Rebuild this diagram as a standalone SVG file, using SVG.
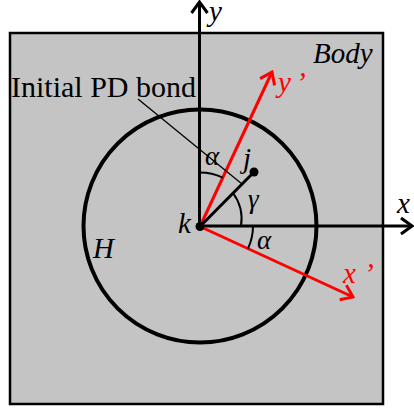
<svg xmlns="http://www.w3.org/2000/svg" width="414" height="410" viewBox="0 0 414 410">
<style>
text{font-family:"Liberation Serif","Times New Roman",Times,"DejaVu Serif",serif}
.lbl{font-style:italic;font-size:29px;fill:#000}
.gr{font-style:italic;font-size:27px;fill:#000}
.red{fill:#ff0000}
.txt{font-size:30px;fill:#000}
.ax{stroke:#000;stroke-width:3;fill:none}
.rax{stroke:#ff0000;stroke-width:3;fill:none}
.arc{stroke:#000;stroke-width:2;fill:none}
</style>
<defs>
<marker id="ah" viewBox="-14 -10 16 20" markerWidth="16" markerHeight="20" refX="0" refY="0" orient="auto" markerUnits="userSpaceOnUse">
<path d="M -11 -8 L 0 0 L -11 8" fill="none" stroke="#000" stroke-width="3"/>
</marker>
<marker id="ahr" viewBox="-14 -10 16 20" markerWidth="16" markerHeight="20" refX="0" refY="0" orient="auto" markerUnits="userSpaceOnUse">
<path d="M -11 -8 L 0 0 L -11 8" fill="none" stroke="#ff0000" stroke-width="3"/>
</marker>
</defs>
<g id="body">
<rect x="10" y="33" width="373" height="371" fill="#c4c4c4" stroke="#000" stroke-width="2.5"/>
<text class="lbl" x="313" y="63" font-family="Liberation Serif, serif">Body</text>
</g>
<g id="horizon">
<circle cx="200" cy="226" r="116.5" fill="none" stroke="#000" stroke-width="4"/>
<text class="lbl" x="93" y="258">H</text>
</g>
<g id="connectors">
<line class="ax" x1="199.5" y1="226" x2="199.5" y2="2" marker-end="url(#ah)"/>
<line class="ax" x1="200" y1="226" x2="412" y2="226" marker-end="url(#ah)"/>
<line class="rax" x1="200" y1="226.5" x2="272" y2="72" marker-end="url(#ahr)"/>
<line class="rax" x1="200" y1="226.5" x2="353" y2="297" marker-end="url(#ahr)"/>
<line x1="200" y1="226.5" x2="254" y2="172" stroke="#000" stroke-width="3"/>
<line x1="138" y1="99" x2="242" y2="184" stroke="#000" stroke-width="1.3"/>
<path class="arc" d="M 199.5 172.5 A 54 54 0 0 1 222.8 177.6"/>
<path class="arc" d="M 233 193 A 44 44 0 0 1 241 226"/>
<path class="arc" d="M 253 226 A 53 53 0 0 1 248 248.5"/>
</g>
<g id="node-k">
<circle cx="200" cy="226.5" r="4.5" fill="#000"/>
<text class="lbl" x="178" y="233">k</text>
</g>
<g id="node-j">
<circle cx="254" cy="172" r="4.5" fill="#000"/>
<text class="lbl" x="243" y="168">j</text>
</g>
<g id="labels">
<text class="lbl" x="209" y="21">y</text>
<text class="lbl" x="397" y="213">x</text>
<text class="lbl red" x="278" y="92"><tspan>y</tspan><tspan x="296">’</tspan></text>
<text class="lbl red" x="343" y="283"><tspan>x</tspan><tspan x="364">’</tspan></text>
<text class="txt" x="11" y="97">Initial PD bond</text>
<text class="gr" x="205" y="165">α</text>
<text class="gr" x="248" y="208">γ</text>
<text class="gr" x="257" y="249">α</text>
</g>
</svg>
